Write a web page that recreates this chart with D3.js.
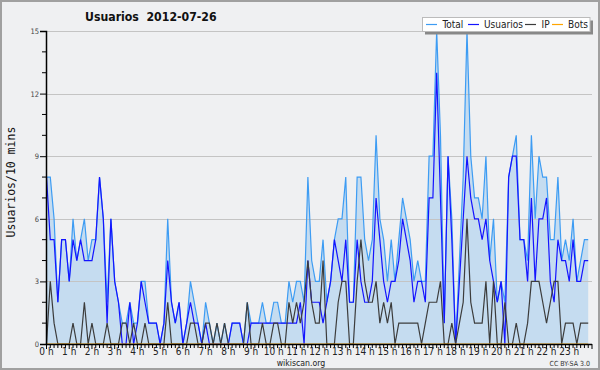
<!DOCTYPE html>
<html><head><meta charset="utf-8">
<script src="https://cdn.jsdelivr.net/npm/d3@7"></script>
<style>body{margin:0;background:#fff}svg{display:block}</style>
</head><body><svg id="c" width="600" height="370"></svg>
<script>
const hourLabels = ["0 h","1 h","2 h","3 h","4 h","5 h","6 h","7 h","8 h","9 h","10 h","11 h","12 h","13 h","14 h","15 h","16 h","17 h","18 h","19 h","20 h","21 h","22 h","23 h"];
const yTicks = [0,3,6,9,12,15];
const seriesNames = ["Total","Usuarios","IP","Bots"];
const usuarios = [8,5,5,2,5,5,3,5,4,5, 4,4,4,5,8,6,1,6,3,2, 0,0,2,0,1,3,2,1,1,1, 0,1,4,2,1,2,0,1,2,1, 1,0,1,0,0,0,0,0,0,1, 1,1,0,0,1,1,1,1,1,1, 1,1,1,1,1,1,1,2,0,4, 2,2,2,1,2,3,5,4,3,5, 2,2,5,3,2,2,3,7,5,3, 2,3,3,4,6,5,4,2,3,3, 2,7,7,13,7,1,9,5,0,3, 6,9,7,6,6,5,6,4,3,2, 3,0,8,9,9,5,5,3,7,3, 6,6,7,3,2,5,4,4,3,5, 3,3,4,4];
const ip = [0,3,1,0,0,0,0,1,0,0, 2,0,1,0,0,0,1,0,0,0, 1,1,0,1,0,0,1,0,0,0, 0,0,2,0,0,0,0,0,1,1, 0,0,1,1,0,1,0,1,0,0, 0,0,0,2,0,0,0,1,0,0, 1,1,0,0,2,1,2,1,2,4, 2,1,1,4,0,0,0,2,3,3, 0,0,3,5,3,2,2,3,1,2, 1,2,0,1,1,1,1,1,1,0, 1,2,2,2,3,0,0,1,0,1, 2,6,2,1,1,1,3,0,3,0, 0,2,0,0,1,0,0,1,3,3, 3,2,1,2,3,3,0,1,1,1, 0,1,1,1];
const total = [8,8,6,2,5,5,3,6,4,5, 6,4,5,5,8,6,2,6,3,2, 1,1,2,1,1,3,3,1,1,1, 0,1,6,2,1,2,0,1,3,2, 1,0,2,1,0,1,0,1,0,1, 1,1,0,2,1,1,1,2,1,1, 2,2,1,1,3,2,3,3,2,8, 4,3,3,5,2,3,5,6,6,8, 2,2,8,8,5,4,5,10,6,5, 3,5,3,5,7,6,5,3,4,3, 3,9,9,15,10,1,9,6,0,4, 8,15,9,7,7,6,9,4,6,2, 3,2,8,9,10,5,5,4,10,6, 9,8,8,5,5,8,4,5,4,6, 3,4,5,5];
const bots = [0,0,0,0,0,0,0,0,0,0, 0,0,0,0,0,0,0,0,0,0, 0,0,0,0,0,0,0,0,0,0, 0,0,0,0,0,0,0,0,0,0, 0,0,0,0,0,0,0,0,0,0, 0,0,0,0,0,0,0,0,0,0, 0,0,0,0,0,0,0,0,0,0, 0,0,0,0,0,0,0,0,0,0, 0,0,0,0,0,0,0,0,0,0, 0,0,0,0,0,0,0,0,0,0, 0,0,0,0,0,0,0,0,0,0, 0,0,0,0,0,0,0,0,0,0, 0,0,0,0,0,0,0,0,0,0, 0,0,0,0,0,0,0,0,0,0, 0,0,0,0];
const colors = {Total:"#3d9cf3", Usuarios:"#1414ff", IP:"#3c3c3c", Bots:"#ffa500"};
const fillColor = "#c5dcf0";
const FONT = "'DejaVu Sans Condensed', 'DejaVu Sans', sans-serif";

const svg = d3.select("#c");
svg.append("rect").attr("x",1).attr("y",1).attr("width",598).attr("height",368)
  .attr("fill","#eff0f2").attr("stroke","#a0a0a0").attr("stroke-width",2);

const x = d3.scaleLinear().domain([0,144]).range([46.5,592]);
const y = d3.scaleLinear().domain([0,15]).range([344,31]);
const idx = d3.range(total.length);

// area
svg.append("path").datum(idx)
  .attr("d", d3.area().x(i=>x(i)).y0(y(0)).y1(i=>y(total[i])))
  .attr("fill",fillColor);

// grid
svg.append("g").selectAll("line").data(yTicks.filter(d=>d>0)).join("line")
  .attr("x1",46).attr("x2",592).attr("y1",d=>Math.round(y(d))+0.5).attr("y2",d=>Math.round(y(d))+0.5)
  .attr("stroke","#c4c4c4").attr("stroke-width",1);

const line = arr => d3.line().x(i=>x(i)).y(i=>y(arr[i]))(idx);
const dataMap = {Total:total, Usuarios:usuarios, IP:ip, Bots:bots};
seriesNames.forEach(n=>{
  svg.append("path").attr("d",line(dataMap[n])).attr("fill","none")
    .attr("stroke",colors[n]).attr("stroke-width",1.2).attr("stroke-linejoin","miter");
});

// y axis
const yAxis = d3.axisLeft(y).tickValues(yTicks).tickSize(6).tickPadding(1).tickFormat(d3.format("d"));
const gy = svg.append("g").attr("transform","translate(46,0)").call(yAxis);
gy.select(".domain").attr("stroke","#000").attr("stroke-width",1.5);
gy.selectAll(".tick line").attr("stroke","#000");
gy.selectAll("text").attr("font-family",FONT).attr("font-size",7.5).attr("fill","#444");
const minorY = d3.range(0,16).filter(v=>v%3!==0);
svg.append("g").selectAll("line").data(minorY).join("line")
  .attr("x1",42).attr("x2",46).attr("y1",d=>y(d)).attr("y2",d=>y(d)).attr("stroke","#000");

// x axis
svg.append("line").attr("x1",46).attr("x2",592).attr("y1",344.5).attr("y2",344.5)
  .attr("stroke","#000").attr("stroke-width",1.5);
svg.append("g").selectAll("line").data(d3.range(0,145)).join("line")
  .attr("x1",i=>x(i)).attr("x2",i=>x(i)).attr("y1",344).attr("y2",i=>i%6===0?349:348)
  .attr("stroke","#000").attr("stroke-width",1);
svg.append("g").selectAll("text").data(hourLabels).join("text")
  .attr("x",(d,h)=>x(h*6)).attr("y",355).attr("text-anchor","middle")
  .attr("font-family",FONT).attr("font-size",10).attr("fill","#222")
  .text(d=>d);

// texts
svg.append("text").attr("x",85).attr("y",21)
  .attr("font-family",FONT).attr("font-weight","bold").attr("font-size",12.2)
  .attr("fill","#111").style("white-space","pre").text("Usuarios  2012-07-26");
svg.append("text").attr("transform","translate(15,182) rotate(-90)").attr("text-anchor","middle")
  .attr("font-family","'DejaVu Sans Mono', monospace").attr("font-size",11.5).attr("fill","#111")
  .text("Usuarios/10 mins");
svg.append("text").attr("x",301).attr("y",366).attr("text-anchor","middle")
  .attr("font-family",FONT).attr("font-size",8.7).attr("fill","#222").text("wikiscan.org");
svg.append("text").attr("x",590).attr("y",366).attr("text-anchor","end")
  .attr("font-family",FONT).attr("font-size",7).attr("fill","#333").text("CC BY-SA 3.0");

// legend
const lg = svg.append("g");
lg.append("rect").attr("x",425).attr("y",20.5).attr("width",168).attr("height",14).attr("fill","#888");
lg.append("rect").attr("x",422.5).attr("y",17.5).attr("width",167.5).attr("height",14).attr("fill","#fff").attr("stroke","#bbb");
const legPos = [{n:"Total",lx:426,tx:442.5},{n:"Usuarios",lx:468,tx:484},{n:"IP",lx:525,tx:541.5},{n:"Bots",lx:552,tx:568}];
legPos.forEach(p=>{
  lg.append("line").attr("x1",p.lx).attr("x2",p.lx+11).attr("y1",24.5).attr("y2",24.5)
    .attr("stroke",colors[p.n]).attr("stroke-width",1.2);
  lg.append("text").attr("x",p.tx).attr("y",28.3).attr("font-family",FONT)
    .attr("font-size",10).attr("fill","#222").text(p.n);
});
</script></body></html>
